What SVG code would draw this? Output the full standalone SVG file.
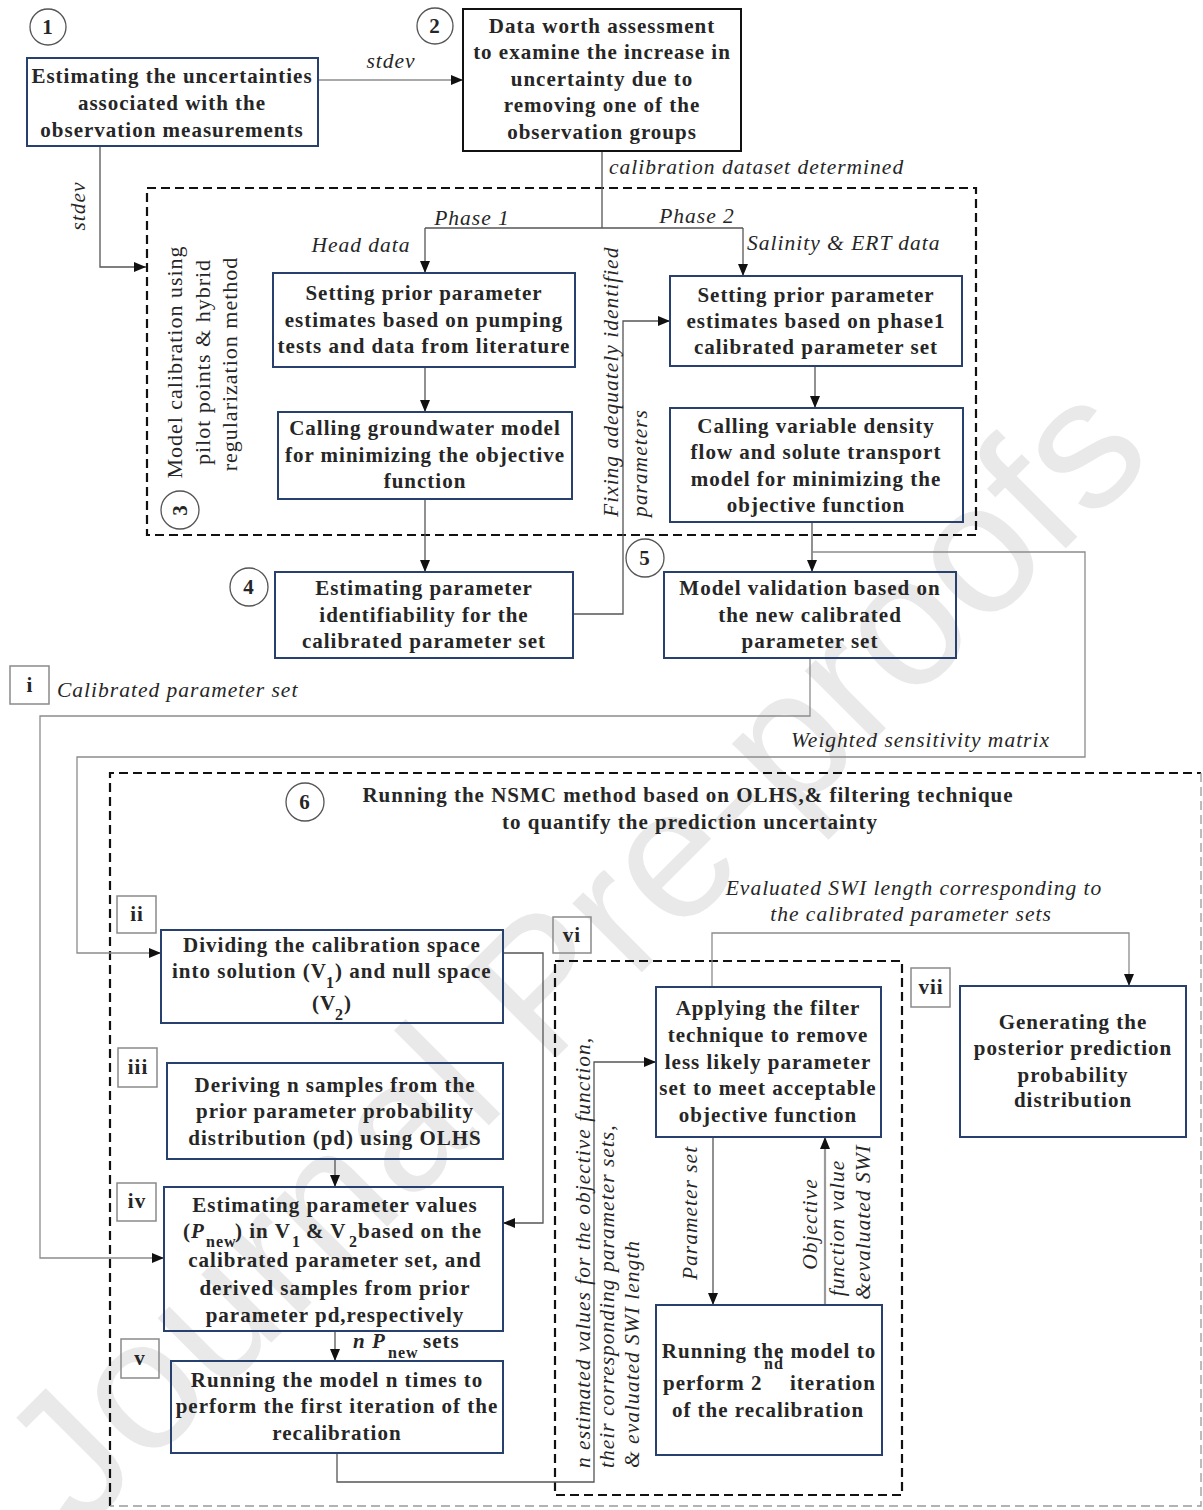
<svg xmlns="http://www.w3.org/2000/svg" width="1203" height="1510" viewBox="0 0 1203 1510">
<style>
.bx{fill:none;stroke:#27406e;stroke-width:2}
.bk{fill:none;stroke:#111;stroke-width:2}
.lb{fill:none;stroke:#8a8a8a;stroke-width:1.5}
.ci{fill:none;stroke:#555;stroke-width:1.3}
.ds{fill:none;stroke:#111;stroke-width:2.2;stroke-dasharray:9 5}
.dg{fill:none;stroke:#999;stroke-width:1.3;stroke-dasharray:9 5}
.ln{fill:none;stroke:#555;stroke-width:1.3}
.lg{fill:none;stroke:#8c8c8c;stroke-width:1.3}
.t{font-family:"Liberation Serif","Times New Roman",serif;font-size:21px;font-weight:bold;letter-spacing:1px;fill:#262626;text-anchor:middle}
.ts{font-family:"Liberation Serif","Times New Roman",serif;font-size:21px;font-weight:bold;letter-spacing:1px;fill:#262626}
.it{font-family:"Liberation Serif","Times New Roman",serif;font-size:21.5px;font-style:italic;letter-spacing:1px;fill:#262626}
.rg{font-family:"Liberation Serif","Times New Roman",serif;font-size:22px;letter-spacing:1px;fill:#262626;text-anchor:middle}
.sb{font-size:16px}
.wm{font-family:"Liberation Sans",Arial,sans-serif;font-size:185px;fill:#e9e9e9}
</style>
<defs>
<marker id="ah" markerUnits="userSpaceOnUse" markerWidth="13" markerHeight="10" refX="12" refY="5" orient="auto">
<path d="M0,0 L12,5 L0,10 Z" fill="#111"/>
</marker>
</defs>
<rect width="1203" height="1510" fill="#fff"/>
<text class="wm" transform="translate(80,1534) rotate(-45)">Journal Pre-proofs</text>

<g id="containers">
<rect class="ds" x="147" y="188" width="829" height="347"/>
<path class="ds" d="M110,1506 L110,773 L1201,773"/>
<path class="dg" d="M1201,773 L1201,1506 L110,1506"/>
<rect class="ds" x="555" y="961" width="347" height="534"/>
</g>

<g id="connectors">
<path class="lg" d="M318,80 L463,80" marker-end="url(#ah)"/>
<path class="ln" d="M100,146 L100,267 L146,267" marker-end="url(#ah)"/>
<path class="ln" d="M602,151 L602,228"/>
<path class="ln" d="M425,228 L743,228"/>
<path class="ln" d="M425,228 L425,273" marker-end="url(#ah)"/>
<path class="ln" d="M743,228 L743,276" marker-end="url(#ah)"/>
<path class="ln" d="M425,367 L425,412" marker-end="url(#ah)"/>
<path class="ln" d="M815,366 L815,408" marker-end="url(#ah)"/>
<path class="ln" d="M425,499 L425,572" marker-end="url(#ah)"/>
<path class="ln" d="M573,614 L623,614 L623,321 L670,321" marker-end="url(#ah)"/>
<path class="ln" d="M812,522 L812,572" marker-end="url(#ah)"/>
<path class="lg" d="M812,552 L1085,552 L1085,757 L77,757 L77,953 L161,953" marker-end="url(#ah)"/>
<path class="lg" d="M810,658 L810,716 L40,716 L40,1258 L164,1258" marker-end="url(#ah)"/>
<path class="ln" d="M503,953 L543,953 L543,1223 L503,1223" marker-end="url(#ah)"/>
<path class="ln" d="M335,1159 L335,1187" marker-end="url(#ah)"/>
<path class="ln" d="M335,1331 L335,1361" marker-end="url(#ah)"/>
<path class="ln" d="M337,1453 L337,1482 L594,1482 L594,1062 L656,1062" marker-end="url(#ah)"/>
<path class="lg" d="M712,987 L712,933 L1129,933 L1129,986" marker-end="url(#ah)"/>
<path class="ln" d="M713,1137 L713,1305" marker-end="url(#ah)"/>
<path fill="none" stroke="#9a9a9a" stroke-width="2.2" d="M825,1305 L825,1137" marker-end="url(#ah)"/>
</g>

<g id="labels">
<text class="it" x="391" y="68" text-anchor="middle">stdev</text>
<text class="it" transform="translate(85,206) rotate(-90)" text-anchor="middle">stdev</text>
<text class="it" x="609" y="174">calibration dataset determined</text>
<text class="it" x="472" y="225" text-anchor="middle">Phase 1</text>
<text class="it" x="697" y="223" text-anchor="middle">Phase 2</text>
<text class="it" x="361" y="252" text-anchor="middle">Head data</text>
<text class="it" x="747" y="250">Salinity &amp; ERT data</text>
<text class="it" transform="translate(618,517) rotate(-90)">Fixing adequately identified</text>
<text class="it" transform="translate(647,517) rotate(-90)">parameters</text>
<text class="it" x="57" y="697">Calibrated parameter set</text>
<text class="it" x="1050" y="747" text-anchor="end">Weighted sensitivity matrix</text>
<text class="it" x="914" y="895" text-anchor="middle">Evaluated SWI length corresponding to</text>
<text class="it" x="911" y="921" text-anchor="middle">the calibrated parameter sets</text>
<text class="ts" x="353" y="1348" font-style="italic">n P</text>
<text class="ts sb" x="388" y="1358">new</text>
<text class="ts" x="423" y="1348">sets</text>
<text class="it" transform="translate(590,1468) rotate(-90)">n estimated values for the objective function,</text>
<text class="it" transform="translate(614,1468) rotate(-90)">their corresponding parameter sets,</text>
<text class="it" transform="translate(639,1468) rotate(-90)">&amp; evaluated SWI length</text>
<text class="it" transform="translate(697,1213) rotate(-90)" text-anchor="middle">Parameter set</text>
<text class="it" transform="translate(817,1224) rotate(-90)" text-anchor="middle">Objective</text>
<text class="it" transform="translate(844,1228) rotate(-90)" text-anchor="middle">function value</text>
<text class="it" transform="translate(870,1222) rotate(-90)" text-anchor="middle">&amp;evaluated SWI</text>
</g>

<g id="n1">
<circle class="ci" cx="48" cy="27" r="18"/>
<text class="t" x="48" y="34">1</text>
<rect class="bx" x="27" y="58" width="291" height="88"/>
<text class="t" x="172" y="83">Estimating the uncertainties</text>
<text class="t" x="172" y="110">associated with the</text>
<text class="t" x="172" y="137">observation measurements</text>
</g>

<g id="n2">
<circle class="ci" cx="435" cy="26" r="18"/>
<text class="t" x="435" y="33">2</text>
<rect class="bk" x="463" y="9" width="278" height="142"/>
<text class="t" x="602" y="33">Data worth assessment</text>
<text class="t" x="602" y="59">to examine the increase in</text>
<text class="t" x="602" y="86">uncertainty due to</text>
<text class="t" x="602" y="112">removing one of the</text>
<text class="t" x="602" y="139">observation groups</text>
</g>

<g id="n3">
<circle class="ci" cx="180" cy="510" r="19"/>
<text class="t" transform="translate(187,510) rotate(-90)">3</text>
<text class="rg" transform="translate(182,362) rotate(-90)">Model calibration using</text>
<text class="rg" transform="translate(210,362) rotate(-90)">pilot points &amp; hybrid</text>
<text class="rg" transform="translate(237,364) rotate(-90)">regularization method</text>
</g>

<g id="n3a">
<rect class="bx" x="273" y="273" width="302" height="94"/>
<text class="t" x="424" y="300">Setting prior parameter</text>
<text class="t" x="424" y="327">estimates based on pumping</text>
<text class="t" x="424" y="353">tests and data from literature</text>
</g>

<g id="n3b">
<rect class="bx" x="278" y="412" width="294" height="87"/>
<text class="t" x="425" y="435">Calling groundwater model</text>
<text class="t" x="425" y="462">for minimizing the objective</text>
<text class="t" x="425" y="488">function</text>
</g>

<g id="n3c">
<rect class="bx" x="670" y="276" width="292" height="90"/>
<text class="t" x="816" y="302">Setting prior parameter</text>
<text class="t" x="816" y="328">estimates based on phase1</text>
<text class="t" x="816" y="354">calibrated parameter set</text>
</g>

<g id="n3d">
<rect class="bx" x="670" y="408" width="293" height="114"/>
<text class="t" x="816" y="433">Calling variable density</text>
<text class="t" x="816" y="459">flow and solute transport</text>
<text class="t" x="816" y="486">model for minimizing the</text>
<text class="t" x="816" y="512">objective function</text>
</g>

<g id="n4">
<circle class="ci" cx="249" cy="587" r="19"/>
<text class="t" x="249" y="594">4</text>
<rect class="bx" x="275" y="572" width="298" height="86"/>
<text class="t" x="424" y="595">Estimating parameter</text>
<text class="t" x="424" y="622">identifiability for the</text>
<text class="t" x="424" y="648">calibrated parameter set</text>
</g>

<g id="n5">
<circle class="ci" cx="645" cy="558" r="19"/>
<text class="t" x="645" y="565">5</text>
<rect class="bx" x="664" y="572" width="292" height="86"/>
<text class="t" x="810" y="595">Model validation based on</text>
<text class="t" x="810" y="622">the new calibrated</text>
<text class="t" x="810" y="648">parameter set</text>
</g>

<g id="ni">
<rect class="lb" x="10" y="666" width="39" height="38"/>
<text class="t" x="30" y="692">i</text>
</g>

<g id="n6">
<circle class="ci" cx="305" cy="802" r="19"/>
<text class="t" x="305" y="809">6</text>
<text class="t" x="688" y="802">Running the NSMC method based on OLHS,&amp; filtering technique</text>
<text class="t" x="690" y="829">to quantify the prediction uncertainty</text>
</g>

<g id="nii">
<rect class="lb" x="117" y="896" width="39" height="37"/>
<text class="t" x="137" y="921">ii</text>
<rect class="bx" x="161" y="930" width="342" height="93"/>
<text class="t" x="332" y="952">Dividing the calibration space</text>
<text class="ts" x="172" y="978">into solution (V</text>
<text class="ts sb" x="326" y="988">1</text>
<text class="ts" x="335" y="978">) and null space</text>
<text class="ts" x="312" y="1010">(V</text>
<text class="ts sb" x="335" y="1020">2</text>
<text class="ts" x="344" y="1010">)</text>
</g>

<g id="niii">
<rect class="lb" x="118" y="1048" width="39" height="39"/>
<text class="t" x="138" y="1074">iii</text>
<rect class="bx" x="167" y="1063" width="336" height="96"/>
<text class="t" x="335" y="1092">Deriving n samples from the</text>
<text class="t" x="335" y="1118">prior parameter probability</text>
<text class="t" x="335" y="1145">distribution (pd) using OLHS</text>
</g>

<g id="niv">
<rect class="lb" x="117" y="1183" width="39" height="38"/>
<text class="t" x="137" y="1208">iv</text>
<rect class="bx" x="164" y="1187" width="339" height="144"/>
<text class="t" x="335" y="1212">Estimating parameter values</text>
<text class="ts" x="183" y="1238">(<tspan font-style="italic">P</tspan></text>
<text class="ts sb" x="206" y="1247">new</text>
<text class="ts" x="235" y="1238">) in V</text>
<text class="ts sb" x="292" y="1247">1</text>
<text class="ts" x="306" y="1238">&amp; V</text>
<text class="ts sb" x="349" y="1247">2</text>
<text class="ts" x="358" y="1238">based on the</text>
<text class="t" x="335" y="1267">calibrated parameter set, and</text>
<text class="t" x="335" y="1295">derived samples from prior</text>
<text class="t" x="335" y="1322">parameter pd,respectively</text>
</g>

<g id="nv">
<rect class="lb" x="121" y="1339" width="38" height="39"/>
<text class="t" x="140" y="1365">v</text>
<rect class="bx" x="171" y="1361" width="332" height="92"/>
<text class="t" x="337" y="1387">Running the model n times to</text>
<text class="t" x="337" y="1413">perform the first iteration of the</text>
<text class="t" x="337" y="1440">recalibration</text>
</g>

<g id="nvi">
<rect class="lb" x="553" y="917" width="38" height="36"/>
<text class="t" x="572" y="942">vi</text>
<rect class="bx" x="656" y="987" width="225" height="150"/>
<text class="t" x="768" y="1015">Applying the filter</text>
<text class="t" x="768" y="1042">technique to remove</text>
<text class="t" x="768" y="1069">less likely parameter</text>
<text class="t" x="768" y="1095">set to meet acceptable</text>
<text class="t" x="768" y="1122">objective function</text>
</g>

<g id="nvi2">
<rect class="bx" x="656" y="1305" width="226" height="150"/>
<text class="t" x="769" y="1358">Running the model to</text>
<text class="ts" x="663" y="1390">perform 2</text>
<text class="ts sb" x="764" y="1369">nd</text>
<text class="ts" x="790" y="1390">iteration</text>
<text class="t" x="768" y="1417">of the recalibration</text>
</g>

<g id="nvii">
<rect class="lb" x="911" y="968" width="39" height="39"/>
<text class="t" x="931" y="994">vii</text>
<rect class="bx" x="960" y="986" width="226" height="151"/>
<text class="t" x="1073" y="1029">Generating the</text>
<text class="t" x="1073" y="1055">posterior prediction</text>
<text class="t" x="1073" y="1082">probability</text>
<text class="t" x="1073" y="1107">distribution</text>
</g>
</svg>
